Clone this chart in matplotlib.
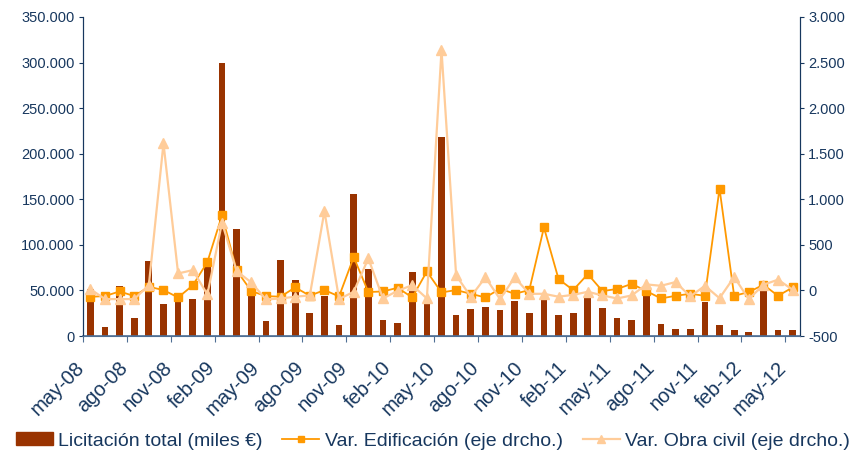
import matplotlib
matplotlib.use("Agg")
import matplotlib.pyplot as plt
from matplotlib.ticker import FuncFormatter, FixedLocator
from matplotlib.lines import Line2D
from matplotlib.patches import Patch
from matplotlib.transforms import ScaledTranslation

plt.rcParams['font.family'] = ['Liberation Sans', 'DejaVu Sans']

months = ["may", "jun", "jul", "ago", "sep", "oct", "nov", "dic", "ene", "feb", "mar", "abr"]
categories = []
for k in range(49):
    m = k % 12
    yr = 8 + (k + 4) // 12
    categories.append(f"{months[m]}-{yr:02d}")

licitacion = [51600, 9900, 54800, 19800, 82700, 34900, 37500, 40800, 76000, 300000,
              117600, 47000, 16000, 83400, 61300, 25000, 43700, 11700, 156000, 73400,
              17200, 14000, 70000, 36000, 218600, 22800, 29700, 31600, 28600, 38200,
              25000, 42200, 22800, 25000, 43700, 30800, 19800, 17300, 46000, 12900,
              7400, 7400, 37000, 11800, 6200, 4000, 58800, 6200, 6200]

var_edificacion = [-70, -62, -11, -62, 40, 4, -77, 55, 311, 825,
                   219, -7, -62, -69, 33, -58, 4, -66, 366, -18,
                   -11, 29, -77, 208, -22, 4, -37, -77, 18, -37,
                   4, 691, 124, 4, 179, -7, 16, 72, -7, -88,
                   -59, -37, -59, 1117, -59, -18, 62, -59, 33]

var_obra_civil = [15, -95, -95, -95, 58, 1614, 186, 223, -44, 745,
                  212, 88, -99, -88, -69, -55, 870, -95, -15, 351,
                  -88, -4, 58, -88, 2637, 165, -69, 143, -95, 143,
                  -37, -37, -69, -48, -15, -55, -88, -55, 66, 51,
                  92, -66, 51, -85, 147, -96, 62, 118, 7]

navy = "#17375E"
fig = plt.figure(figsize=(8.52, 4.51), dpi=100)
ax = fig.add_axes([83/852, 1-336/451, (800-83)/852, (336-17)/451])
x = list(range(len(categories)))
ax.bar(x, licitacion, width=0.46, color="#993300", zorder=1)
ax.set_xlim(-0.5, len(categories) - 0.5)
ax.set_ylim(0, 350000)
ax.yaxis.set_major_locator(FixedLocator(range(0, 350001, 50000)))
ax.yaxis.set_major_formatter(FuncFormatter(lambda v, p: f"{int(v):,}".replace(",", ".")))

ax2 = ax.twinx()
ax2.plot(x, var_edificacion, color="#FF9900", lw=1.3, marker="s", ms=5.5, zorder=3)
ax2.plot(x, var_obra_civil, color="#FFCC99", lw=1.6, marker="^", ms=7, zorder=4)
ax2.set_ylim(-500, 3000)
ax2.yaxis.set_major_locator(FixedLocator(range(-500, 3001, 500)))
ax2.yaxis.set_major_formatter(FuncFormatter(lambda v, p: f"{int(v):,}".replace(",", ".")))

for a in (ax, ax2):
    a.spines['top'].set_visible(False)
    a.spines['left'].set_color(navy)
    a.spines['right'].set_color(navy)
    a.spines['bottom'].set_color("#4F6F94")
    a.tick_params(axis='y', colors=navy, labelsize=10.5, length=3, width=0.8, pad=3)
ax.spines['bottom'].set_linewidth(1.2)

ax.set_xticks([i - 0.5 for i in range(0, 49, 3)])
ax.set_xticks(range(0, 49, 3), minor=True)
ax.tick_params(axis='x', which='major', length=4, color="#4F6F94", labelbottom=False)
ax.tick_params(axis='x', which='minor', length=0, labelsize=14.5, labelcolor=navy, pad=0)
ax.set_xticklabels([categories[i] for i in range(0, 49, 3)], minor=True,
                   rotation=45, ha='right', va='top', rotation_mode='anchor')
offset = ScaledTranslation(-16/100, -22/100, fig.dpi_scale_trans)
for lbl in ax.get_xticklabels(minor=True):
    lbl.set_transform(lbl.get_transform() + offset)
ax.set_zorder(ax2.get_zorder() - 1)
ax.patch.set_visible(False)

handles = [Patch(color="#993300"),
           Line2D([], [], color="#FF9900", lw=1.3, marker="s", ms=5),
           Line2D([], [], color="#FFCC99", lw=1.6, marker="^", ms=6)]
labels = ["Licitación total (miles €)", "Var. Edificación (eje drcho.)",
          "Var. Obra civil (eje drcho.)"]
leg = fig.legend(handles, labels, loc='center', bbox_to_anchor=(433/852, 1-441/451),
                 ncol=3, frameon=False, fontsize=14, handlelength=1.9,
                 handleheight=0.65, columnspacing=1.0, handletextpad=0.3,
                 borderpad=0, borderaxespad=0)
for t in leg.get_texts():
    t.set_color(navy)

fig.savefig("out.png", dpi=100)
